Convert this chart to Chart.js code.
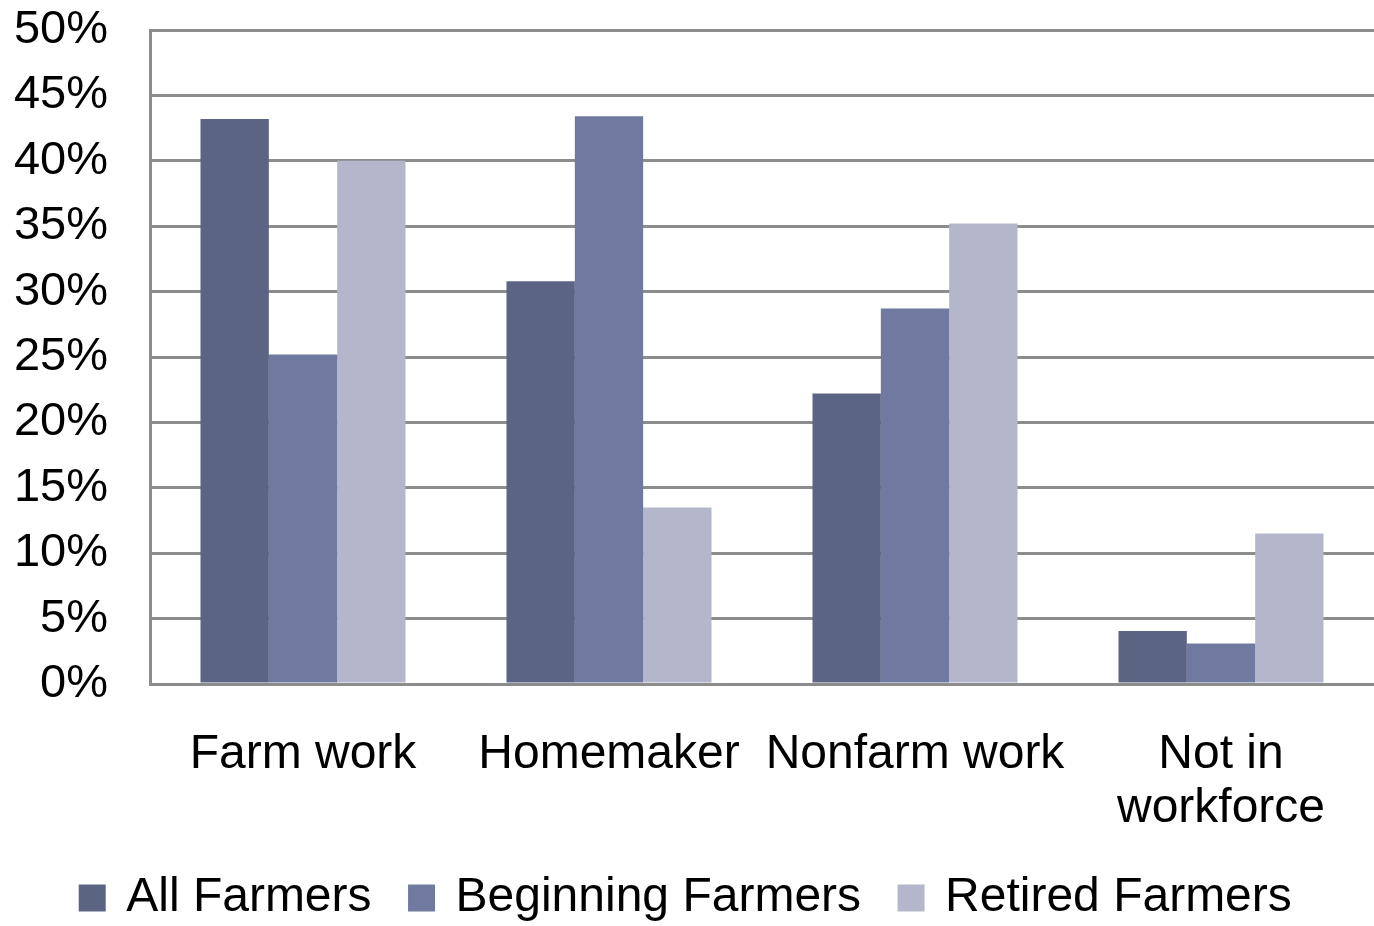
<!DOCTYPE html>
<html>
<head>
    <title>Farmers by primary occupation</title>
    <meta charset="UTF-8">
    <style>
        body { margin: 0; padding: 0; background: #fff; }
        #chart-container { width: 1374px; height: 926px; }
    </style>
</head>
<body>
    <div id="chart-container">
        <canvas id="occChart" width="1374" height="926"></canvas>
    </div>

    <script src="https://cdn.jsdelivr.net/npm/chart.js"></script>
    <script>
        // categories and values (percent)
        const categories = ['Farm work', 'Homemaker', 'Nonfarm work', ['Not in', 'workforce']];
        const allFarmers = [43.2, 30.8, 22.2, 4.05];
        const beginningFarmers = [25.2, 43.4, 28.7, 3.1];
        const retiredFarmers = [40.0, 13.5, 35.2, 11.5];
        const seriesNames = ['All Farmers', 'Beginning Farmers', 'Retired Farmers'];
        const yTicks = [0, 5, 10, 15, 20, 25, 30, 35, 40, 45, 50];

        const gridGray = '#8c8c8c';
        const fontFace = "'Liberation Sans', Arial, sans-serif";

        window.onload = function () {
            const ctx = document.getElementById('occChart').getContext('2d');
            new Chart(ctx, {
                type: 'bar',
                data: {
                    labels: categories,
                    datasets: [
                        { label: seriesNames[0], data: allFarmers, backgroundColor: '#5c6484' },
                        { label: seriesNames[1], data: beginningFarmers, backgroundColor: '#707aa0' },
                        { label: seriesNames[2], data: retiredFarmers, backgroundColor: '#b4b7cb' }
                    ]
                },
                options: {
                    responsive: false,
                    animation: false,
                    layout: { padding: { top: 30, right: 0, bottom: -6, left: 0 } },
                    datasets: {
                        bar: { categoryPercentage: 0.67, barPercentage: 1.0 }
                    },
                    plugins: {
                        tooltip: { enabled: false },
                        legend: {
                            position: 'bottom',
                            labels: {
                                color: '#000',
                                font: { family: fontFace, size: 48 },
                                // point style rect keeps the 27px square but sits closer to the text
                                usePointStyle: true,
                                pointStyle: 'rect',
                                boxWidth: 20,
                                boxHeight: 27,
                                padding: 40
                            }
                        }
                    },
                    scales: {
                        x: {
                            grid: { display: false, drawTicks: false },
                            border: { display: false },
                            ticks: {
                                color: '#000',
                                font: { family: fontFace, size: 48, lineHeight: 1.12 },
                                padding: 44,
                                maxRotation: 0,
                                autoSkip: false
                            },
                            afterFit: function (s) { s.height = 150; }
                        },
                        y: {
                            min: 0,
                            max: 50,
                            afterBuildTicks: function (s) { s.ticks = yTicks.map(v => ({ value: v })); },
                            ticks: {
                                color: '#000',
                                font: { family: fontFace, size: 47, lineHeight: 1.2 },
                                padding: 42,
                                callback: v => v + '%'
                            },
                            grid: { color: gridGray, lineWidth: 3, drawTicks: false },
                            border: { color: gridGray, width: 3 },
                            afterFit: function (s) {
                                s.width = 150;
                                s.paddingTop = 0;
                                s.paddingBottom = 0;
                            }
                        }
                    }
                }
            });
        };
    </script>
</body>
</html>
